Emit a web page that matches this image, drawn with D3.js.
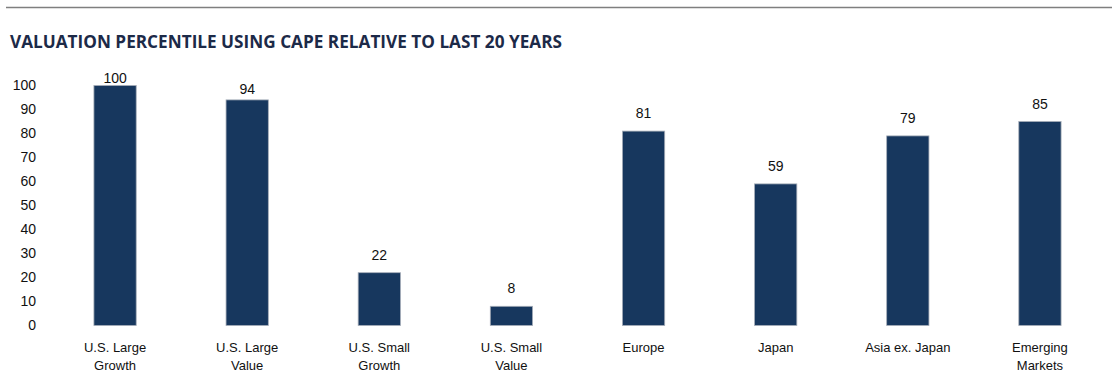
<!DOCTYPE html>
<html>
<head>
<meta charset="utf-8">
<script src="https://cdn.jsdelivr.net/npm/d3@7"></script>
<style>
    body { margin: 0; background: #fff; }
    svg text { font-family: "Liberation Sans", Arial, sans-serif; }
</style>
</head>
<body>
<div id="chart"></div>
<script>
"use strict"

// chart values
const categories = [
    ["U.S. Large", "Growth"],
    ["U.S. Large", "Value"],
    ["U.S. Small", "Growth"],
    ["U.S. Small", "Value"],
    ["Europe"],
    ["Japan"],
    ["Asia ex. Japan"],
    ["Emerging", "Markets"]
];
const values = [100, 94, 22, 8, 81, 59, 79, 85];
const yTicks = [0, 10, 20, 30, 40, 50, 60, 70, 80, 90, 100];
const title = "VALUATION PERCENTILE USING CAPE RELATIVE TO LAST 20 YEARS";

let width = 1112,
    height = 378;

let svg = d3.select("#chart").append("svg")
    .attr("width", width)
    .attr("height", height);

// rule on top
svg.append("line")
    .attr("x1", 6)
    .attr("x2", width)
    .attr("y1", 7.5)
    .attr("y2", 7.5)
    .style("stroke", "#7f7f7f")
    .style("stroke-width", 1.5);

svg.append("text")
    .attr("x", 10)
    .attr("y", 48)
    .attr("textLength", 552)
    .attr("lengthAdjust", "spacingAndGlyphs")
    .style("font-family", "'Open Sans', sans-serif")
    .style("font-weight", 700)
    .style("font-size", "17px")
    .style("fill", "#1c2a48")
    .text(title);

let x = d3.scaleBand()
    .domain(d3.range(values.length))
    .range([49, 1106])
    .paddingInner(0.68)
    .paddingOuter(0.34);

let y = d3.scaleLinear()
    .domain([0, 100])
    .range([325.5, 85.5]);

// y axis labels only
let yAxis = svg.append("g")
    .attr("transform", "translate(36,0)")
    .call(d3.axisLeft(y).tickValues(yTicks).tickSize(0).tickPadding(0));
yAxis.select(".domain").remove();
yAxis.selectAll("text")
    .style("font-family", "'Liberation Sans', Arial, sans-serif")
    .style("font-size", "14px")
    .style("fill", "#111");

svg.selectAll(".bar")
    .data(values)
    .enter().append("rect")
    .attr("class", "bar")
    .attr("x", (d, i) => x(i))
    .attr("y", d => y(d))
    .attr("width", x.bandwidth())
    .attr("height", d => y(0) - y(d))
    .style("fill", "#17375e")
    .style("stroke", "#a6adb8")
    .style("stroke-width", 0.8);

// value labels, the tall ones sit closer to the bar
svg.selectAll(".valueLabel")
    .data(values)
    .enter().append("text")
    .attr("class", "valueLabel")
    .attr("x", (d, i) => x(i) + x.bandwidth() / 2)
    .attr("y", d => y(d) - (d >= 100 ? 3 : d >= 90 ? 6 : 13))
    .attr("text-anchor", "middle")
    .style("font-size", "14px")
    .style("fill", "#111")
    .text(d => d);

// category labels
let catLabels = svg.selectAll(".catLabel")
    .data(categories)
    .enter().append("text")
    .attr("class", "catLabel")
    .attr("x", (d, i) => x(i) + x.bandwidth() / 2)
    .attr("y", 352)
    .attr("text-anchor", "middle")
    .style("font-size", "13px")
    .style("fill", "#111");

catLabels.selectAll("tspan")
    .data(d => d)
    .enter().append("tspan")
    .attr("x", function () { return d3.select(this.parentNode).attr("x"); })
    .attr("dy", (d, i) => i === 0 ? 0 : 18)
    .text(d => d);
</script>
</body>
</html>
